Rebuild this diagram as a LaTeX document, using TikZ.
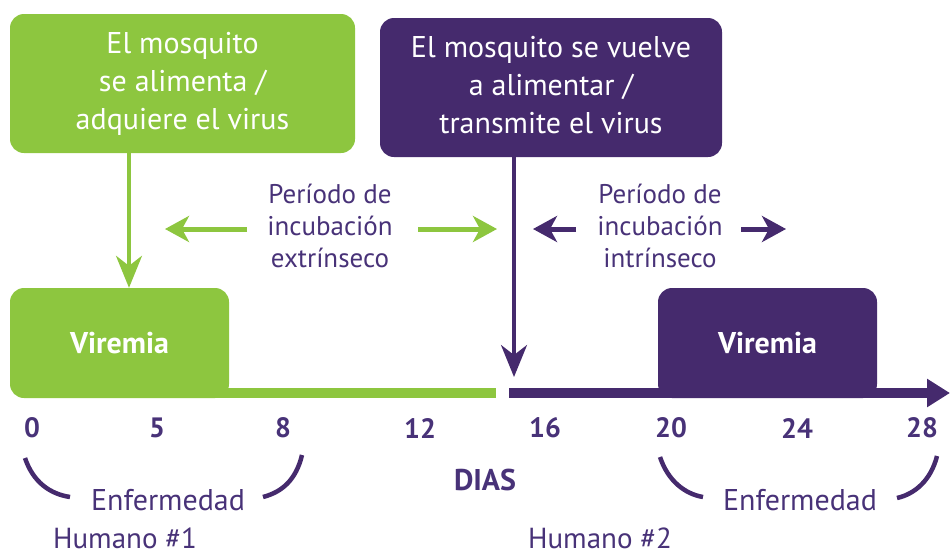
\documentclass[tikz,border=0pt]{standalone}
\usepackage{fontspec}
\setmainfont{PT Sans}
\usetikzlibrary{arrows.meta}
\definecolor{mqgreen}{RGB}{141,198,63}
\definecolor{mqpurple}{RGB}{69,42,109}
\definecolor{mqtext}{RGB}{72,50,120}

\tikzset{
  topbox/.style={rounded corners=14pt, text=white, font=\fontsize{30}{38}\selectfont},
  virbox/.style={rounded corners=14pt, text=white, font=\fontsize{30}{34}\selectfont\bfseries,
    minimum width=219pt, minimum height=110pt},
  daynum/.style={text=mqtext, font=\fontsize{28}{32}\selectfont\bfseries},
  plain/.style={text=mqtext, font=\fontsize{30}{34}\selectfont},
  period/.style={text=mqtext, font=\fontsize{27}{32}\selectfont},
  dnarrow/.style={line width=3.5pt, -{Stealth[length=32pt, width=26pt, inset=10pt]}},
  sidearrow/.style={line width=5pt, -{Stealth[length=24pt, width=26pt, inset=7pt]}},
  axisline/.style={line width=10pt}
}

\begin{document}
\begin{tikzpicture}[x=1pt, y=-1pt]
\useasboundingbox (0,0) rectangle (950,557);

% Mosquito boxes
\node[topbox, fill=mqgreen, minimum width=345pt, minimum height=139pt] (feed) at (182.5,83.5) {
\begin{tabular}{c}
El mosquito\\
se alimenta /\\
adquiere el virus
\end{tabular}
};

\node[topbox, fill=mqpurple, minimum width=342pt, minimum height=139pt] (refeed) at (551,87.5) {
\begin{tabular}{c}
El mosquito se vuelve\\
a alimentar /\\
transmite el virus
\end{tabular}
};

% Viremia boxes
\node[virbox, fill=mqgreen] (vir1) at (119.5,343) {Viremia};
\node[virbox, fill=mqpurple] (vir2) at (767.5,343) {Viremia};

% Time axis
\coordinate (gstart) at (200,393);
\coordinate (gend) at (496,393);
\coordinate (pstart) at (509,393);
\coordinate (pend) at (950,393);
\draw[axisline, mqgreen] (gstart) -- (gend);
\draw[axisline, mqpurple, -{Triangle[length=23pt, width=27pt]}] (pstart) -- (pend);

% Arrows down
\coordinate (hit) at (514,377);
\draw[dnarrow, mqgreen] ([xshift=-53.5pt]feed.south) -- ([xshift=9.5pt]vir1.north);
\draw[dnarrow, mqpurple] ([xshift=-37pt]refeed.south) -- (hit);

% Incubation periods
\node[period] (extr) at (330,229) {
\begin{tabular}{c}
Período de\\
incubación\\
extrínseco
\end{tabular}
};
\node[period] (intr) at (660,229) {
\begin{tabular}{c}
Período de\\
incubación\\
intrínseco
\end{tabular}
};
\coordinate (extl) at (165,229);
\coordinate (extr-tail) at (247,229);
\coordinate (extr-r) at (418,229);
\coordinate (extr-tip) at (497,229);
\coordinate (intl) at (533,229);
\coordinate (intl-tail) at (576,229);
\coordinate (intr-r) at (741,229);
\coordinate (intr-tip) at (786,229);
\draw[sidearrow, mqgreen] (extr-tail) -- (extl);
\draw[sidearrow, mqgreen] (extr-r) -- (extr-tip);
\draw[sidearrow, mqpurple] (intl-tail) -- (intl);
\draw[sidearrow, mqpurple] (intr-r) -- (intr-tip);

% Day numbers
\node[daynum] (d0) at (32,428) {0};
\node[daynum] (d5) at (157,428) {5};
\node[daynum] (d8) at (283,428) {8};
\node[daynum] (d12) at (420,428) {12};
\node[daynum] (d16) at (545,428) {16};
\node[daynum] (d20) at (671,428) {20};
\node[daynum] (d24) at (797,428) {24};
\node[daynum] (d28) at (922,428) {28};
\node[daynum, font=\fontsize{30}{34}\selectfont\bfseries] (dias) at (485,480) {DIAS};

% Illness brackets
\node[plain] (sick1) at (168,500) {Enfermedad};
\node[plain] (sick2) at (800,500) {Enfermedad};
\draw[mqpurple, line width=4.5pt] (25,458) .. controls (33,482) and (50,494) .. (70,497);
\draw[mqpurple, line width=4.5pt] (302,455) .. controls (296,480) and (282,492) .. (263,497);
\draw[mqpurple, line width=4.5pt] (660,457) .. controls (668,481) and (685,494) .. (703,497);
\draw[mqpurple, line width=4.5pt] (937,456) .. controls (931,480) and (915,494) .. (897,498);

% Humans
\node[plain, font=\fontsize{29}{32}\selectfont, anchor=base, inner sep=1pt] (hum1) at (125,548) {Humano \#1};
\node[plain, font=\fontsize{29}{32}\selectfont, anchor=base, inner sep=1pt] (hum2) at (600,548) {Humano \#2};
\end{tikzpicture}
\end{document}
